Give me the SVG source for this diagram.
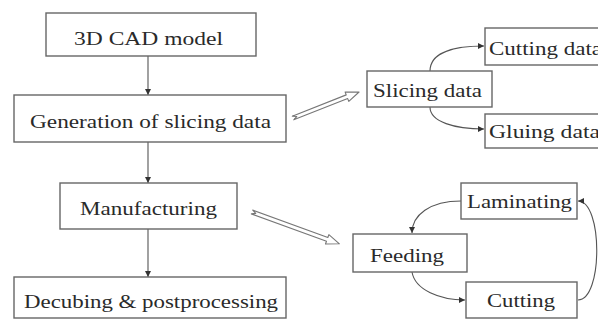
<svg xmlns="http://www.w3.org/2000/svg" width="598" height="320" viewBox="0 0 598 320">
<style>
.box{fill:#fff;stroke:#666;stroke-width:1.4}
.c{fill:none;stroke:#555;stroke-width:1.1}
.h{fill:#fff;stroke:#777;stroke-width:1.1;stroke-linejoin:round}
</style>
<defs>
<marker id="ah" markerUnits="userSpaceOnUse" markerWidth="7" markerHeight="7" refX="6" refY="3.5" orient="auto">
<path d="M0,0.5 L6,3.5 L0,6.5 Z" fill="#333"/>
</marker>
</defs>
<rect width="598" height="320" fill="#fff"/>
<g id="connectors">
<line class="c" x1="148" y1="56" x2="148" y2="95" marker-end="url(#ah)"/>
<line class="c" x1="148" y1="142" x2="148" y2="183" marker-end="url(#ah)"/>
<line class="c" x1="148" y1="229" x2="148" y2="277" marker-end="url(#ah)"/>
<path class="c" d="M430,71 C430,52 455,46 484,46" marker-end="url(#ah)"/>
<path class="c" d="M430,107 C430,122 455,129 484,129" marker-end="url(#ah)"/>
<path class="c" d="M461,201 C430,201 412,215 412,233" marker-end="url(#ah)"/>
<path class="c" d="M412,272 C415,290 440,300 465,300" marker-end="url(#ah)"/>
<path class="c" d="M578,300 C603,300 603,201 578,201" marker-end="url(#ah)"/>
<g transform="translate(293,118) rotate(-21.5)">
<polygon class="h" points="0,-2 58,-2 58,-5 71,0 58,5 58,2 0,2 4,0"/>
</g>
<g transform="translate(252,212) rotate(20)">
<polygon class="h" points="0,-2 80,-2 80,-5 93,0 80,5 80,2 0,2 4,0"/>
</g>
</g>
<g font-family="Liberation Serif, DejaVu Serif, serif" font-size="19" fill="#2a2a2a">
<g id="n-cad"><rect class="box" x="46" y="13" width="210" height="43"/><text x="74" y="45" textLength="149" lengthAdjust="spacingAndGlyphs">3D CAD model</text></g>
<g id="n-gen"><rect class="box" x="14" y="95" width="272" height="47"/><text x="30" y="128" textLength="241" lengthAdjust="spacingAndGlyphs">Generation of slicing data</text></g>
<g id="n-man"><rect class="box" x="60" y="183" width="177" height="46"/><text x="80" y="215" textLength="137" lengthAdjust="spacingAndGlyphs">Manufacturing</text></g>
<g id="n-dec"><rect class="box" x="14" y="277" width="272" height="41"/><text x="24" y="308" textLength="254" lengthAdjust="spacingAndGlyphs">Decubing &amp; postprocessing</text></g>
<g id="n-slice"><rect class="box" x="367" y="71" width="125" height="36"/><text x="373" y="97" textLength="109" lengthAdjust="spacingAndGlyphs">Slicing data</text></g>
<g id="n-cutdata"><rect class="box" x="485" y="28" width="130" height="37"/><text x="489" y="55" textLength="113" lengthAdjust="spacingAndGlyphs">Cutting data</text></g>
<g id="n-glue"><rect class="box" x="485" y="114" width="130" height="34"/><text x="489" y="138" textLength="111" lengthAdjust="spacingAndGlyphs">Gluing data</text></g>
<g id="n-feed"><rect class="box" x="353" y="234" width="114" height="38"/><text x="370" y="262" textLength="74" lengthAdjust="spacingAndGlyphs">Feeding</text></g>
<g id="n-lam"><rect class="box" x="461" y="183" width="116" height="36"/><text x="467" y="208" textLength="105" lengthAdjust="spacingAndGlyphs">Laminating</text></g>
<g id="n-cut"><rect class="box" x="466" y="282" width="111" height="36"/><text x="487" y="307" textLength="68" lengthAdjust="spacingAndGlyphs">Cutting</text></g>
</g>
</svg>
